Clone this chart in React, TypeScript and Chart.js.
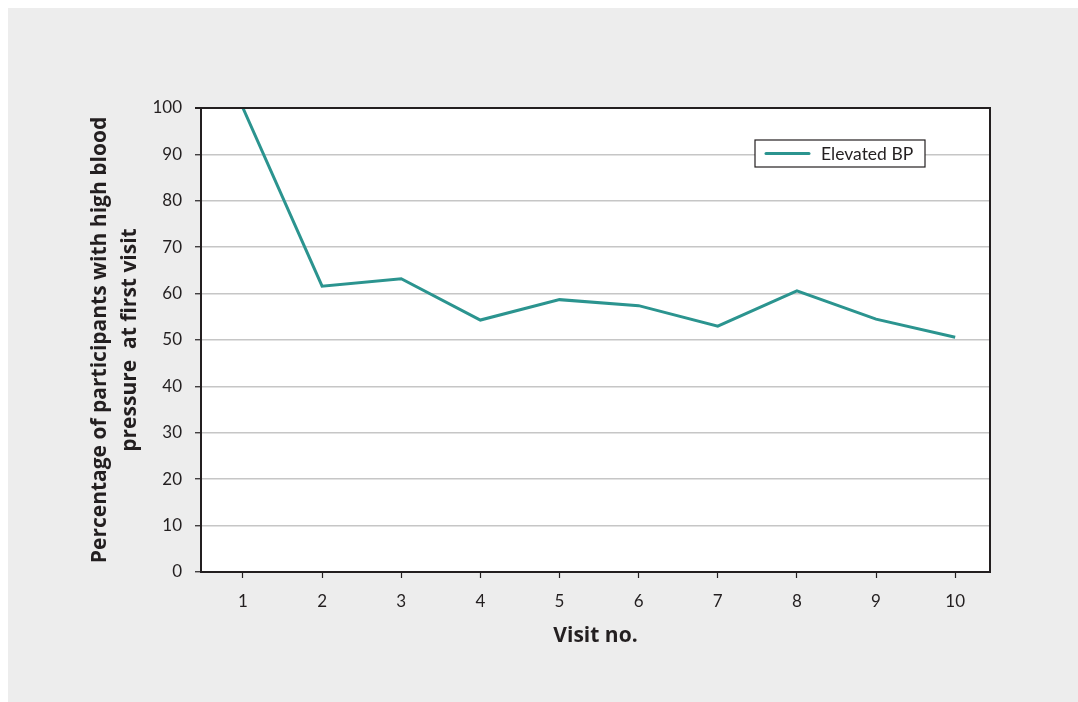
import React, { useEffect, useRef } from "react";
import { Chart, registerables } from "chart.js";

Chart.register(...registerables);

const visits = [1, 2, 3, 4, 5, 6, 7, 8, 9, 10];
const elevatedBP = [100, 61.6, 63.2, 54.3, 58.7, 57.4, 53.0, 60.6, 54.5, 50.6];
const seriesName = "Elevated BP";
const yTitle = ["Percentage of participants with high blood", "pressure  at first visit"];
const xTitle = "Visit no.";

const FONT = "Lato, 'Open Sans', sans-serif";
const TFONT = "'Open Sans', Lato, sans-serif";
const DARK = "#231f20";
const LINE = "#2b948f";

const bgPlugin = {
  id: "bg",
  beforeDraw(chart: any) {
    const { ctx, chartArea: a, width, height } = chart;
    ctx.save();
    ctx.fillStyle = "#ededed";
    ctx.fillRect(0, 0, width, height);
    ctx.fillStyle = "#ffffff";
    ctx.fillRect(a.left, a.top, a.right - a.left, a.bottom - a.top);
    ctx.restore();
  },
  afterDraw(chart: any) {
    const { ctx, chartArea: a } = chart;
    ctx.save();
    ctx.strokeStyle = DARK;
    ctx.lineWidth = 2;
    ctx.beginPath();
    ctx.moveTo(a.left - 6, a.top);
    ctx.lineTo(a.right, a.top);
    ctx.lineTo(a.right, a.bottom);
    ctx.stroke();
    // legend
    const x0 = a.right - 235;
    const y0 = a.top + 32;
    const w = 170;
    const h = 27;
    ctx.fillStyle = "#ffffff";
    ctx.fillRect(x0, y0, w, h);
    ctx.lineWidth = 1.2;
    ctx.strokeStyle = DARK;
    ctx.strokeRect(x0, y0, w, h);
    ctx.strokeStyle = LINE;
    ctx.lineWidth = 3;
    ctx.lineCap = "round";
    ctx.beginPath();
    ctx.moveTo(x0 + 11, y0 + h / 2);
    ctx.lineTo(x0 + 54, y0 + h / 2);
    ctx.stroke();
    ctx.fillStyle = DARK;
    ctx.font = `17.5px ${FONT}`;
    ctx.textBaseline = "middle";
    ctx.textAlign = "left";
    ctx.fillText(seriesName, x0 + 66, y0 + h / 2 + 1);
    ctx.restore();
  },
};

export default function App() {
  const ref = useRef<HTMLCanvasElement>(null);
  useEffect(() => {
    const chart = new Chart(ref.current!, {
      type: "line",
      data: {
        datasets: [
          {
            label: seriesName,
            data: visits.map((v, i) => ({ x: v, y: elevatedBP[i] })),
            borderColor: LINE,
            borderWidth: 3,
            pointRadius: 0,
            tension: 0,
            fill: false,
          },
        ],
      },
      plugins: [bgPlugin],
      options: {
        animation: false,
        responsive: false,
        devicePixelRatio: 1,
        layout: { padding: { left: 0, right: 88, top: 100, bottom: 0 } },
        plugins: { legend: { display: false }, tooltip: { enabled: false } },
        scales: {
          x: {
            type: "linear",
            min: 0.47,
            max: 10.44,
            afterBuildTicks: (s: any) => {
              s.ticks = visits.map((v) => ({ value: v }));
            },
            afterFit: (s: any) => {
              s.height = 130;
            },
            grid: {
              drawOnChartArea: false,
              color: DARK,
              tickLength: 6,
              tickWidth: 1.2,
            },
            border: { color: DARK, width: 2 },
            ticks: {
              color: DARK,
              font: { family: FONT, size: 17 },
              padding: 13,
              callback: (v: any) => String(v),
            },
            title: {
              display: true,
              text: xTitle,
              color: DARK,
              font: { family: TFONT, size: 21, weight: "bold" },
              padding: { top: 0, bottom: 53 },
            },
          },
          y: {
            min: 0,
            max: 100,
            afterFit: (s: any) => {
              s.width = 193;
            },
            ticks: {
              stepSize: 10,
              color: DARK,
              font: { family: FONT, size: 17 },
              padding: 13,
            },
            grid: {
              color: (c: any) => (c.tick && c.tick.value === 0 ? DARK : "#c6c6c6"),
              lineWidth: 1.5,
              tickColor: DARK,
              tickLength: 6,
              tickWidth: 1.2,
            },
            border: { color: DARK, width: 2 },
            title: {
              display: true,
              text: yTitle,
              color: DARK,
              font: { family: TFONT, size: 21, weight: "bold", lineHeight: 1.43 },
              padding: { top: 77, bottom: 0 },
            },
          },
        },
      },
    });
    return () => chart.destroy();
  }, []);
  return (
    <div style={{ position: "absolute", left: 8, top: 8, width: 1070, height: 694 }}>
      <canvas ref={ref} width={1070} height={694} style={{ display: "block" }} />
    </div>
  );
}
